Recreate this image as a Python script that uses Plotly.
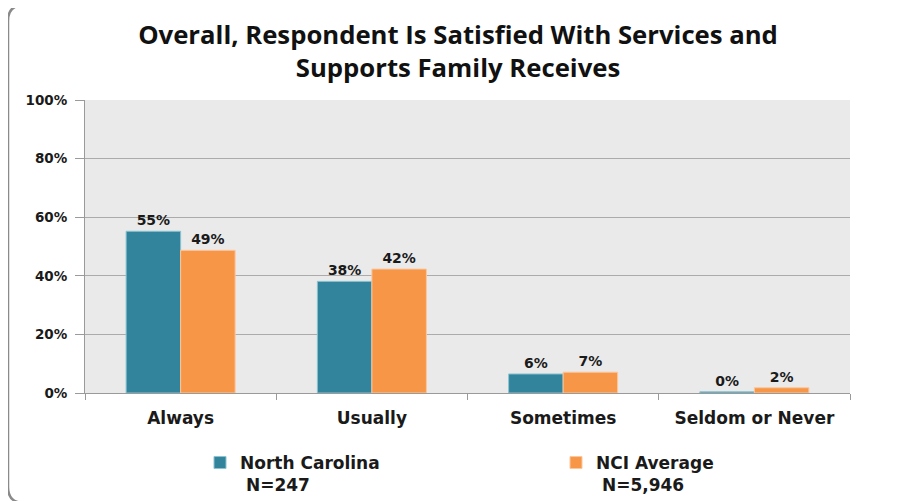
import plotly.graph_objects as go

# survey answers
categories = ["Always", "Usually", "Sometimes", "Seldom or Never"]
nc_values = [55.2, 38.1, 6.5, 0.4]
nc_labels = ["55%", "38%", "6%", "0%"]
nci_values = [48.7, 42.3, 7.1, 1.8]
nci_labels = ["49%", "42%", "7%", "2%"]
y_ticks = [0, 20, 40, 60, 80, 100]
y_tick_text = ["0%", "20%", "40%", "60%", "80%", "100%"]

# page body adds an 8px offset, so figure coords = screen - 8
OFF = 8
W, H = 900, 501
ML, MR, MT, MB = 77, 58, 92, 116
pw, ph = W - ML - MR, H - MT - MB

def px(x):
    return (x - OFF - ML) / pw

def py(y):
    return (H - MB - (y - OFF)) / ph

lbl_font = dict(family="DejaVu Sans", size=14, color="#1a1a1a", weight="bold")

fig = go.Figure()
fig.add_trace(go.Bar(x=categories, y=nc_values, name="North Carolina<br> N=247",
                     marker=dict(color="#31849B", line=dict(color="#8CC3D1", width=1)),
                     text=nc_labels, textposition="outside", textfont=lbl_font,
                     cliponaxis=False))
fig.add_trace(go.Bar(x=categories, y=nci_values, name="NCI Average<br> N=5,946",
                     marker=dict(color="#F79646", line=dict(color="#FBC79F", width=1)),
                     text=nci_labels, textposition="outside", textfont=lbl_font,
                     cliponaxis=False))

# rounded frame around the whole chart
x0, x1 = px(8), px(905)
y0, y1 = py(5), py(503)
rx, ry = 16 / pw, 16 / ph
path = (f"M {x0+rx} {y0} L {x1-rx} {y0} Q {x1} {y0} {x1} {y0-ry} "
        f"L {x1} {y1+ry} Q {x1} {y1} {x1-rx} {y1} "
        f"L {x0+rx} {y1} Q {x0} {y1} {x0} {y1+ry} "
        f"L {x0} {y0-ry} Q {x0} {y0} {x0+rx} {y0} Z")
fig.add_shape(type="path", path=path, xref="paper", yref="paper",
              line=dict(color="#8a8a8a", width=2.5), layer="below")

fig.update_layout(
    width=W, height=H,
    margin=dict(l=ML, r=MR, t=MT, b=MB, autoexpand=False),
    paper_bgcolor="white",
    plot_bgcolor="#EAEAEA",
    barmode="group", bargap=0.43, bargroupgap=0,
    title=dict(text="Overall, Respondent Is Satisfied With Services and<br>Supports Family Receives",
               x=0.5, xanchor="center", y=0.929, yanchor="top",
               font=dict(family="Open Sans", size=25.7, color="#111111", weight="bold")),
    font=dict(family="DejaVu Sans", color="#1a1a1a"),
    showlegend=True,
    legend=dict(orientation="h", xref="container", x=192 / W, xanchor="left",
                yref="container", y=1 - 437 / H, yanchor="top",
                entrywidth=311, valign="top", traceorder="normal",
                font=dict(family="DejaVu Sans", size=17, color="#1a1a1a", weight="bold"),
                bgcolor="rgba(0,0,0,0)"),
)
fig.update_xaxes(showline=True, linecolor="#9a9a9a", linewidth=1,
                 ticks="outside", tickson="boundaries", ticklen=6, tickcolor="#9a9a9a",
                 ticklabelstandoff=10,
                 tickfont=dict(family="DejaVu Sans", size=17, color="#1a1a1a", weight="bold"),
                 showgrid=False)
fig.update_yaxes(range=[0, 100], tickvals=y_ticks, ticktext=y_tick_text,
                 showline=True, linecolor="#9a9a9a", linewidth=1,
                 ticks="outside", ticklen=9, tickcolor="#9a9a9a",
                 ticklabelstandoff=5,
                 tickfont=dict(family="DejaVu Sans", size=13.5, color="#1a1a1a", weight="bold"),
                 showgrid=True, gridcolor="#ABABAB", gridwidth=1, zeroline=False)

fig.write_html("out.html")
